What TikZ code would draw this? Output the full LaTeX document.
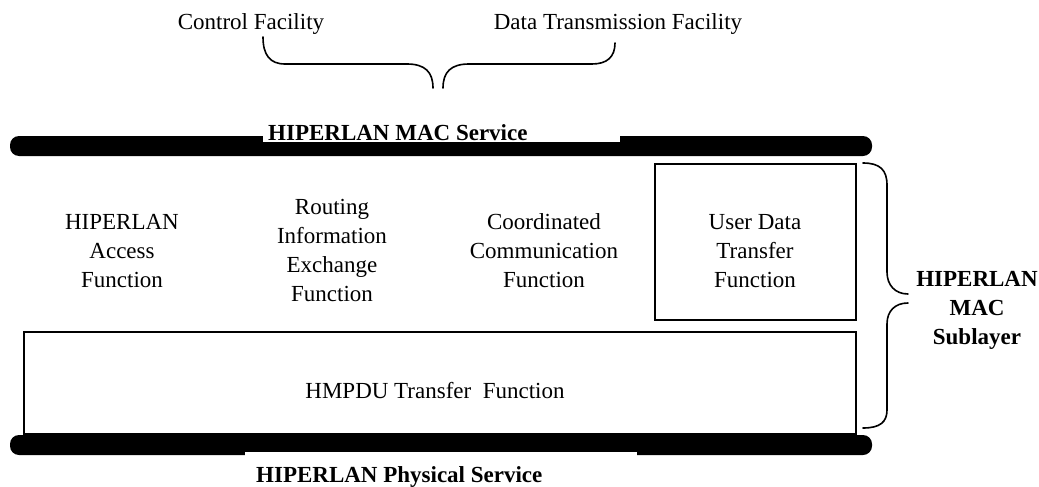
\documentclass[tikz,border=0pt]{standalone}
\usepackage{fontspec}
\setmainfont{Liberation Serif}
\begin{document}
\begin{tikzpicture}[x=1pt,y=-1pt,
  txt/.style={font=\fontsize{23}{29}\selectfont, inner sep=0pt, align=center},
  btxt/.style={font=\fontsize{23}{29}\selectfont\bfseries, inner sep=0pt, align=center},
  bar/.style={fill=black, rounded corners=9pt},
  fnbox/.style={draw, line width=1.8pt, inner sep=0pt, anchor=north west},
  brace/.style={draw, line width=1.6pt, line cap=round}]
\useasboundingbox (0,0) rectangle (1039,487);
\fill[white] (0,0) rectangle (1039,487);

% service access points: thick rounded bars
\fill[bar] (10,136) rectangle (872,156);
\fill[bar] (10,435) rectangle (872,455);
\fill[white] (263,120) rectangle (620,142);
\fill[white] (245,452) rectangle (637,487);
\node (macsvc) [btxt, anchor=base west] at (268,140) {HIPERLAN MAC Service};
\node (physvc) [btxt, anchor=base west] at (256,482) {HIPERLAN Physical Service};

% facilities offered by the MAC service
\node (ctrl) [txt, anchor=base] at (251,30) {Control Facility};
\node (data) [txt, anchor=base] at (618,30) {Data Transmission Facility};
\draw[brace] (263,37) .. controls (263,55) and (270,64) .. (285,64) -- (407,64)
  .. controls (425,64) and (433,72) .. (433,88);
\draw[brace] (443,88) .. controls (443,72) and (451,64) .. (469,64) -- (592,64)
  .. controls (607,64) and (615,57) .. (615,43);

% functions of the MAC sublayer
\node (haf) [txt] at (122,251) {HIPERLAN\\Access\\Function};
\node (rief) [txt] at (332,250) {Routing\\Information\\Exchange\\Function};
\node (ccf) [txt] at (544,251) {Coordinated\\Communication\\Function};
\node (udtbox) [fnbox, minimum width=201pt, minimum height=156pt] at (654,163) {};
\node (udt) [txt] at (755,251) {User Data\\Transfer\\Function};
\node (hmpdubox) [fnbox, minimum width=832pt, minimum height=102pt] at (23,331) {};
\node (hmpdu) [txt, anchor=base] at (435,398) {HMPDU Transfer\ \ Function};

% sublayer brace and label
\draw[brace] (863,163) .. controls (880,163) and (887,170) .. (887,185) -- (887,272)
  .. controls (887,285) and (895,294) .. (908,294);
\draw[brace] (908,303) .. controls (895,303) and (887,311) .. (887,324) -- (887,410)
  .. controls (887,422) and (880,428) .. (863,428);
\node (sub) [btxt] at (977,310) {HIPERLAN\\MAC\\Sublayer};
\end{tikzpicture}
\end{document}
